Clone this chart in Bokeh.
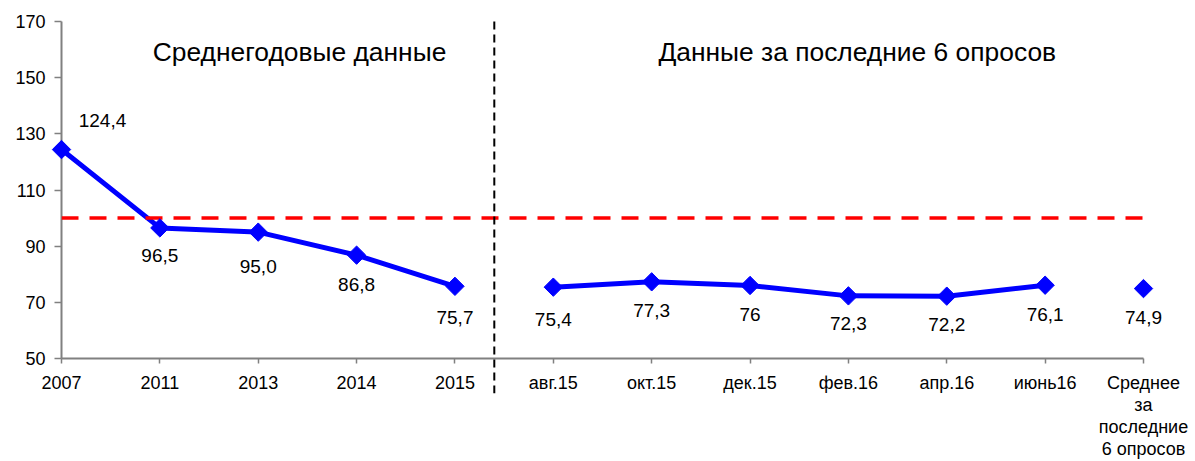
from bokeh.plotting import figure
from bokeh.models import Range1d, FixedTicker, Span, Label, ColumnDataSource
from bokeh.core.properties import value
from bokeh.embed import file_html
from bokeh.resources import INLINE
import math

# ---- data ----
categories = ["2007", "2011", "2013", "2014", "2015",
              "авг.15", "окт.15", "дек.15", "фев.16", "апр.16", "июнь16",
              "Среднее\nза\nпоследние\n6 опросов"]
annual_values = [124.4, 96.5, 95.0, 86.8, 75.7]
survey_values = [75.4, 77.3, 76.0, 72.3, 72.2, 76.1]
average_value = [74.9]
value_labels = ["124,4", "96,5", "95,0", "86,8", "75,7",
                "75,4", "77,3", "76", "72,3", "72,2", "76,1", "74,9"]
threshold = 100
y_ticks = [50, 70, 90, 110, 130, 150, 170]
header_left = "Среднегодовые данные"
header_right = "Данные за последние 6 опросов"

# label offsets in screen pixels (styling)
label_dx = [41, 0, 0, 0, 0, 0, 0, 0, 0, 0, 0, 0]
label_dy = [-29, 28, 34, 29, 31, 32, 29, 29, 28, 28, 29, 29]

FONT = "Liberation Sans"
BLUE = "#0000FF"

n = len(categories)
xs = list(range(n))
x_annual = xs[:len(annual_values)]
x_survey = xs[len(annual_values):len(annual_values) + len(survey_values)]
x_avg = xs[-1:]

p = figure(width=1195, height=461,
           x_range=Range1d(0, n - 1), y_range=Range1d(50, 170),
           output_backend="svg", toolbar_location=None,
           min_border_left=61, min_border_right=52,
           min_border_top=21, min_border_bottom=101)
p.outline_line_color = None
p.grid.visible = False
p.background_fill_color = "white"
p.border_fill_color = "white"

# axes
for ax in (p.xaxis[0], p.yaxis[0]):
    ax.axis_line_color = "#808080"
    ax.axis_line_width = 2
    ax.major_tick_line_color = "#808080"
    ax.major_tick_line_width = 1.5
    ax.minor_tick_line_color = None
    ax.major_tick_in = 0
    ax.major_label_text_font = FONT
    ax.major_label_text_font_size = "18px"
    ax.major_label_text_color = "black"

p.yaxis.ticker = FixedTicker(ticks=y_ticks)
p.yaxis.major_tick_out = 7
p.yaxis.major_label_standoff = 9

p.xaxis.ticker = FixedTicker(ticks=xs)
p.xaxis.major_label_overrides = {i: c for i, c in enumerate(categories)}
p.xaxis.major_tick_out = 5
p.xaxis.major_label_standoff = 9
p.xaxis.major_label_text_line_height = 1.1

# threshold line
p.add_layout(Span(location=threshold, dimension="width", line_color="#FF0000",
                  line_width=3.5, line_dash="17 11"))

# divider between sections
divider_x = 4.4
p.segment(x0=[divider_x], y0=[170], x1=[divider_x], y1=[37.6],
          line_color="black", line_width=2, line_dash="8 5", level="overlay")

# series
p.line(x_annual, annual_values, line_color=BLUE, line_width=5)
p.line(x_survey, survey_values, line_color=BLUE, line_width=5)

all_vals = annual_values + survey_values + average_value
all_x = x_annual + x_survey + x_avg
src = ColumnDataSource(dict(x=all_x, y=all_vals, lab=value_labels,
                            dx=label_dx, dy=label_dy))
p.scatter("x", "y", source=src, marker="square", size=13, angle=math.pi / 4,
          fill_color=BLUE, line_color=BLUE, level="overlay")

p.text("x", "y", text="lab", source=src, x_offset="dx", y_offset="dy",
       text_font=value(FONT), text_font_size="19px", text_color="black",
       text_align="center", text_baseline="middle", level="overlay")

# section headers
p.add_layout(Label(x=2.42, y=159.0, text=header_left, text_font=FONT,
                   text_font_size="26.4px", text_align="center",
                   text_baseline="middle", text_color="black"))
p.add_layout(Label(x=8.09, y=159.0, text=header_right, text_font=FONT,
                   text_font_size="26.4px", text_align="center",
                   text_baseline="middle", text_color="black"))

open("out.html", "w").write(file_html(p, INLINE))
